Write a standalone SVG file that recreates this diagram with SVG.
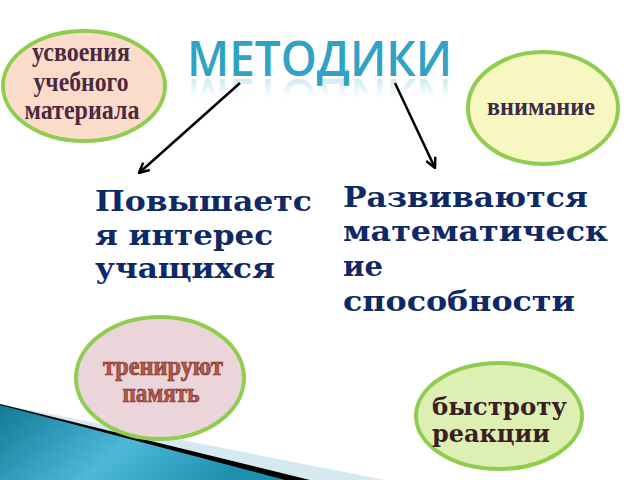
<svg xmlns="http://www.w3.org/2000/svg" width="640" height="480" viewBox="0 0 640 480">
<style>
.oval{stroke:#8fcd4f;stroke-width:4}
.t1{font-family:"Liberation Serif",serif;font-weight:bold;fill:#4a2a40;text-anchor:middle}
.t3{font-family:"Liberation Serif",serif;font-weight:bold;fill:#b0594a;stroke:#7c3327;stroke-width:0.6;text-anchor:middle}
.t4{font-family:"DejaVu Serif",serif;font-weight:bold;fill:#3b1d24}
.main{font-family:"DejaVu Serif",serif;font-weight:bold;fill:#0f2866;font-size:28.5px}
.title{font-family:"Open Sans",sans-serif;font-weight:600;font-size:49px;fill:#31a2c4}
.arr{stroke:#000;stroke-width:2.5;fill:none}
</style>
<defs>
<linearGradient id="teal" x1="0" y1="0" x2="1" y2="0.3">
<stop offset="0" stop-color="#137a96"/>
<stop offset="0.55" stop-color="#4db8d8"/>
<stop offset="1" stop-color="#1f8fae"/>
</linearGradient>
<linearGradient id="refl" x1="0" y1="0" x2="0" y2="1">
<stop offset="0" stop-color="#31a2c4" stop-opacity="0"/>
<stop offset="0.5" stop-color="#31a2c4" stop-opacity="0"/>
<stop offset="1" stop-color="#31a2c4" stop-opacity="0.4"/>
</linearGradient>
<marker id="ah" viewBox="0 0 12 12" refX="11" refY="6" markerWidth="12" markerHeight="12" markerUnits="userSpaceOnUse" orient="auto">
<path d="M1,1 L11,6 L1,11" fill="none" stroke="#000" stroke-width="2.5"/>
</marker>
</defs>
<rect width="640" height="480" fill="#fff"/>
<g id="decor">
<polygon points="0,404 385,480 0,480" fill="#d6e9f1"/>
<polygon points="0,404 310,480 0,480" fill="#000"/>
<polygon points="0,405 285,480 0,480" fill="url(#teal)"/>
</g>
<g id="title">
<text class="title" x="187" y="76" textLength="265" lengthAdjust="spacingAndGlyphs">МЕТОДИКИ</text>
<text class="title" x="187" y="76" textLength="265" lengthAdjust="spacingAndGlyphs" transform="translate(0,155) scale(1,-1)" style="fill:url(#refl)">МЕТОДИКИ</text>
</g>
<g id="connectors">
<line class="arr" x1="240" y1="83" x2="139" y2="173" marker-end="url(#ah)"/>
<line class="arr" x1="395" y1="83" x2="435" y2="168" marker-end="url(#ah)"/>
</g>
<g id="node-usvoeniya">
<ellipse class="oval" cx="84" cy="86" rx="81" ry="55" fill="#fbdccb"/>
<text class="t1" font-size="24" transform="translate(81,61) scale(1,1.15)" textLength="98" lengthAdjust="spacingAndGlyphs">усвоения</text>
<text class="t1" font-size="24" transform="translate(81,91) scale(1,1.15)" textLength="95" lengthAdjust="spacingAndGlyphs">учебного</text>
<text class="t1" font-size="24" transform="translate(82,119) scale(1,1.15)" textLength="115" lengthAdjust="spacingAndGlyphs">материала</text>
</g>
<g id="node-vnimanie">
<ellipse class="oval" cx="543" cy="108" rx="75" ry="56" fill="#f9f7c1"/>
<text class="t1" font-size="25" x="541" y="115" textLength="108" lengthAdjust="spacingAndGlyphs" style="fill:#3f2a48">внимание</text>
</g>
<g id="text-left">
<text class="main" x="95" y="211" textLength="217" lengthAdjust="spacingAndGlyphs">Повышаетс</text>
<text class="main" x="95" y="245" textLength="178" lengthAdjust="spacingAndGlyphs">я интерес</text>
<text class="main" x="95" y="278" textLength="180" lengthAdjust="spacingAndGlyphs">учащихся</text>
</g>
<g id="text-right">
<text class="main" x="343" y="207" textLength="245" lengthAdjust="spacingAndGlyphs">Развиваются</text>
<text class="main" x="343" y="241" textLength="265" lengthAdjust="spacingAndGlyphs">математическ</text>
<text class="main" x="343" y="276" textLength="40" lengthAdjust="spacingAndGlyphs">ие</text>
<text class="main" x="343" y="311" textLength="232" lengthAdjust="spacingAndGlyphs">способности</text>
</g>
<g id="node-pamyat">
<ellipse class="oval" cx="160" cy="378" rx="84" ry="61" fill="#ebd4da"/>
<text class="t3" font-size="23" transform="translate(163,375) scale(1,1.15)" textLength="120" lengthAdjust="spacingAndGlyphs">тренируют</text>
<text class="t3" font-size="23" transform="translate(161,402) scale(1,1.15)" textLength="77" lengthAdjust="spacingAndGlyphs">память</text>
</g>
<g id="node-reakcii">
<ellipse class="oval" cx="499" cy="416" rx="83" ry="53" fill="#ddefb3"/>
<text class="t4" font-size="25" x="432" y="415" textLength="135" lengthAdjust="spacingAndGlyphs">быстроту</text>
<text class="t4" font-size="25" x="432" y="442" textLength="118" lengthAdjust="spacingAndGlyphs">реакции</text>
</g>
</svg>
